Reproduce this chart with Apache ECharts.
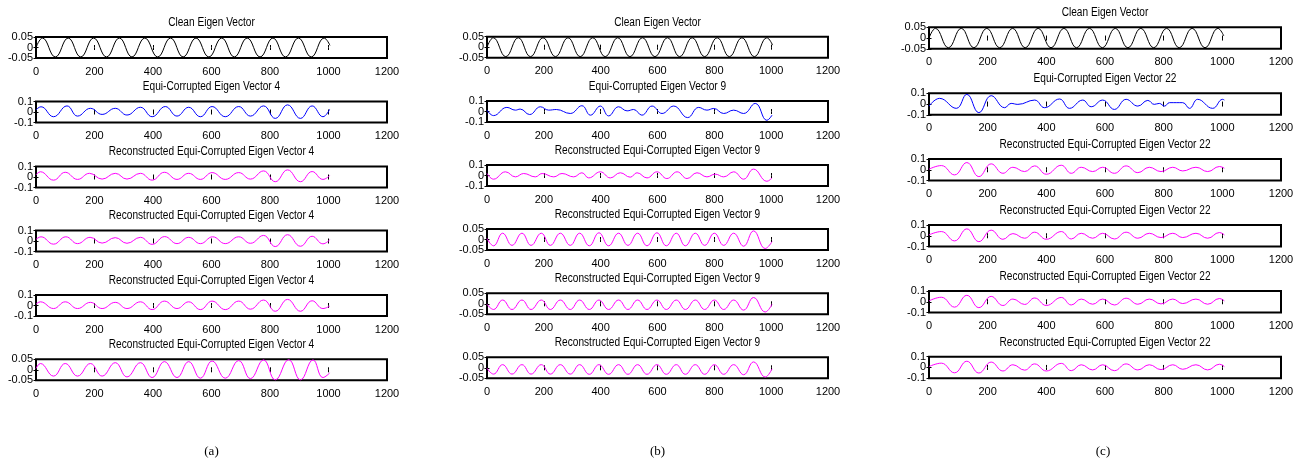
<!DOCTYPE html>
<html>
<head>
<meta charset="utf-8">
<script src="https://cdn.jsdelivr.net/npm/echarts/dist/echarts.min.js"></script>
<style>
  html, body { margin: 0; padding: 0; background: #ffffff; }
  #chart { width: 1298px; height: 464px; }
</style>
</head>
<body>
<div id="chart"></div>
<script>
// ---- data: extrema of each eigen vector trace, as [sample index, value] ----
const cleanVector = [[0,0.0],[22,0.045],[66,-0.045],[110,0.045],[153,-0.045],[197,0.045],[241,-0.045],[285,0.045],[328,-0.045],[372,0.045],[416,-0.045],[460,0.045],[503,-0.045],[547,0.045],[591,-0.045],[635,0.045],[678,-0.045],[722,0.045],[766,-0.045],[810,0.045],[853,-0.045],[897,0.045],[941,-0.045],[985,0.045],[1005,0.01]];

// (a) vector 4
const corrupted4 = [[0,0.02],[17,0.05],[60,-0.045],[106,0.058],[142,-0.039],[186,0.035],[226,-0.023],[271,0.035],[311,-0.029],[357,0.045],[397,-0.045],[442,0.052],[482,-0.039],[522,0.045],[562,-0.045],[602,0.052],[647,-0.045],[693,0.052],[733,-0.039],[778,0.058],[818,-0.061],[860,0.068],[904,-0.061],[944,0.058],[981,-0.045],[1004,0.026]];
const recon4a = [[0,0.02],[15,0.05],[60,-0.03],[100,0.045],[142,-0.023],[183,0.035],[226,-0.02],[271,0.035],[311,-0.02],[357,0.035],[397,-0.03],[439,0.045],[482,-0.023],[522,0.035],[562,-0.023],[602,0.042],[647,-0.023],[693,0.042],[733,-0.02],[778,0.058],[818,-0.045],[860,0.068],[904,-0.045],[944,0.052],[981,-0.023],[1004,0.013]];
const recon4b = [[0,0.015],[17,0.04],[60,-0.03],[102,0.04],[142,-0.025],[185,0.035],[226,-0.02],[271,0.032],[311,-0.022],[357,0.035],[397,-0.032],[440,0.042],[482,-0.025],[522,0.035],[562,-0.025],[604,0.04],[647,-0.025],[693,0.04],[733,-0.022],[778,0.053],[818,-0.053],[860,0.06],[904,-0.05],[944,0.045],[981,-0.027],[1004,0.011]];
const recon4c = [[0,0.012],[15,0.035],[60,-0.029],[100,0.035],[142,-0.029],[186,0.03],[226,-0.029],[271,0.03],[311,-0.029],[357,0.035],[397,-0.039],[439,0.042],[482,-0.029],[522,0.035],[562,-0.039],[602,0.042],[647,-0.039],[693,0.042],[733,-0.035],[778,0.052],[818,-0.055],[860,0.058],[904,-0.055],[944,0.045],[981,-0.029],[1004,-0.006]];
const recon4d = [[0,0.006],[15,0.03],[60,-0.03],[100,0.03],[142,-0.03],[186,0.03],[226,-0.03],[271,0.034],[311,-0.034],[357,0.034],[397,-0.037],[439,0.039],[482,-0.037],[522,0.039],[562,-0.04],[602,0.042],[647,-0.04],[693,0.044],[733,-0.042],[778,0.047],[818,-0.048],[864,0.048],[904,-0.048],[947,0.047],[981,-0.037],[1004,-0.015]];

// (b) vector 9
const corrupted9 = [[0,0.013],[23,-0.039],[70,0.039],[100,0.013],[117,0.023],[150,-0.029],[188,0.045],[217,0.013],[244,0.019],[293,-0.019],[334,0.055],[364,-0.035],[399,0.052],[428,-0.042],[463,0.045],[493,0.006],[516,0.019],[545,-0.035],[581,0.052],[616,-0.019],[657,0.052],[706,-0.058],[745,0.039],[774,0.013],[798,0.029],[833,-0.019],[868,0.013],[903,-0.019],[944,0.077],[985,-0.084],[1003,-0.035]];
const recon9a = [[0,0.019],[23,-0.035],[65,0.035],[100,-0.013],[129,0.019],[170,-0.013],[194,0.019],[235,-0.013],[264,0.019],[305,-0.013],[334,0.026],[358,-0.023],[399,0.035],[434,-0.023],[469,0.026],[504,-0.016],[528,0.026],[563,-0.023],[598,0.035],[633,-0.029],[669,0.035],[704,-0.029],[739,0.026],[774,-0.013],[803,0.013],[833,-0.013],[868,0.035],[903,-0.035],[938,0.061],[985,-0.055],[1003,-0.023]];
const recon9b = [[0,0.005],[23,-0.03],[55,0.03],[88,-0.028],[123,0.03],[155,-0.028],[191,0.03],[223,-0.028],[258,0.03],[293,-0.028],[326,0.03],[360,-0.03],[394,0.032],[428,-0.03],[463,0.03],[496,-0.028],[530,0.03],[563,-0.03],[598,0.032],[631,-0.03],[666,0.03],[698,-0.03],[733,0.03],[766,-0.028],[800,0.03],[833,-0.028],[868,0.03],[903,-0.032],[938,0.041],[979,-0.043],[1003,-0.01]];
const recon9c = [[0,-0.002],[23,-0.027],[55,0.018],[88,-0.027],[123,0.018],[155,-0.027],[191,0.018],[223,-0.027],[258,0.018],[293,-0.027],[326,0.018],[360,-0.027],[394,0.018],[428,-0.027],[463,0.018],[496,-0.027],[530,0.018],[563,-0.027],[598,0.018],[631,-0.027],[666,0.018],[698,-0.027],[733,0.018],[766,-0.027],[800,0.018],[833,-0.027],[868,0.018],[903,-0.03],[938,0.03],[979,-0.039],[1003,-0.002]];
const recon9d = [[0,-0.002],[23,-0.03],[55,0.015],[88,-0.03],[123,0.015],[155,-0.03],[191,0.015],[223,-0.03],[258,0.015],[293,-0.03],[326,0.015],[360,-0.031],[394,0.015],[428,-0.031],[463,0.015],[496,-0.031],[530,0.015],[563,-0.031],[598,0.015],[631,-0.031],[666,0.015],[698,-0.031],[733,0.015],[766,-0.031],[800,0.015],[833,-0.031],[868,0.015],[903,-0.033],[938,0.028],[979,-0.044],[1003,-0.005]];

// (c) vector 22
const corrupted22 = [[0,-0.02],[36,0.053],[93,-0.04],[129,0.09],[170,-0.08],[212,0.078],[258,-0.034],[280,0.006],[303,-0.003],[360,0.037],[394,-0.034],[445,0.047],[479,-0.04],[524,0.037],[553,-0.025],[592,0.037],[632,-0.05],[672,0.044],[712,-0.019],[746,0.034],[768,-0.003],[785,0.006],[803,-0.019],[820,0.013],[865,0.013],[888,-0.04],[916,0.044],[967,-0.04],[1001,0.044],[1007,0.037]];
const recon22a = [[0,0.005],[42,0.039],[87,-0.048],[129,0.067],[170,-0.064],[212,0.055],[252,-0.033],[286,0.023],[326,-0.017],[360,0.036],[400,-0.042],[451,0.042],[485,-0.033],[519,0.023],[558,-0.017],[592,0.023],[632,-0.033],[672,0.036],[712,-0.027],[751,0.023],[791,-0.017],[831,0.023],[865,-0.011],[910,0.023],[950,-0.017],[990,0.03],[1007,0.014]];
const recon22b = [[0,0.008],[42,0.039],[87,-0.048],[129,0.064],[170,-0.055],[212,0.052],[252,-0.033],[286,0.02],[326,-0.023],[360,0.033],[400,-0.033],[451,0.039],[485,-0.03],[519,0.023],[558,-0.023],[592,0.023],[632,-0.03],[672,0.033],[712,-0.023],[751,0.023],[791,-0.017],[831,0.023],[865,-0.017],[910,0.023],[950,-0.023],[990,0.03],[1007,0.008]];
const recon22c = [[0,0.008],[42,0.042],[87,-0.05],[129,0.06],[170,-0.055],[212,0.05],[252,-0.035],[286,0.025],[326,-0.025],[360,0.035],[400,-0.035],[451,0.04],[485,-0.03],[519,0.025],[558,-0.023],[592,0.025],[632,-0.03],[672,0.033],[712,-0.023],[751,0.025],[791,-0.02],[831,0.025],[865,-0.017],[910,0.025],[950,-0.023],[990,0.03],[1007,0.008]];
const recon22d = [[0,0.008],[42,0.04],[87,-0.05],[129,0.058],[170,-0.052],[212,0.05],[252,-0.033],[286,0.025],[326,-0.025],[360,0.033],[400,-0.033],[451,0.038],[485,-0.03],[519,0.025],[558,-0.023],[592,0.025],[632,-0.03],[672,0.033],[712,-0.023],[751,0.025],[791,-0.02],[831,0.025],[865,-0.017],[910,0.025],[950,-0.023],[990,0.03],[1007,0.008]];

// panel titles, traces and y-limits per column
const titlesA = ['Clean Eigen Vector', 'Equi-Corrupted Eigen Vector 4', 'Reconstructed Equi-Corrupted Eigen Vector 4', 'Reconstructed Equi-Corrupted Eigen Vector 4', 'Reconstructed Equi-Corrupted Eigen Vector 4', 'Reconstructed Equi-Corrupted Eigen Vector 4'];
const titlesB = ['Clean Eigen Vector', 'Equi-Corrupted Eigen Vector 9', 'Reconstructed Equi-Corrupted Eigen Vector 9', 'Reconstructed Equi-Corrupted Eigen Vector 9', 'Reconstructed Equi-Corrupted Eigen Vector 9', 'Reconstructed Equi-Corrupted Eigen Vector 9'];
const titlesC = ['Clean Eigen Vector', 'Equi-Corrupted Eigen Vector 22', 'Reconstructed Equi-Corrupted Eigen Vector 22', 'Reconstructed Equi-Corrupted Eigen Vector 22', 'Reconstructed Equi-Corrupted Eigen Vector 22', 'Reconstructed Equi-Corrupted Eigen Vector 22'];
const tracesA = [cleanVector, corrupted4, recon4a, recon4b, recon4c, recon4d];
const tracesB = [cleanVector, corrupted9, recon9a, recon9b, recon9c, recon9d];
const tracesC = [cleanVector, corrupted22, recon22a, recon22b, recon22c, recon22d];
const limitsA = [0.05, 0.1, 0.1, 0.1, 0.1, 0.05];
const limitsB = [0.05, 0.1, 0.1, 0.05, 0.05, 0.05];
const limitsC = [0.05, 0.1, 0.1, 0.1, 0.1, 0.1];
const captions = ['(a)', '(b)', '(c)'];
const xMax = 1200;
const xStep = 200;

// ---- layout ----
const layout = [
  { left: 36,  width: 351, height: 21,   tops: [37, 101.5, 166.5, 230.5, 295, 359.3] },
  { left: 487, width: 341, height: 21,   tops: [36.7, 101, 165, 229, 293.3, 357.3] },
  { left: 929, width: 352, height: 21.5, tops: [27.3, 93.3, 159, 225, 291, 356.7] }
];
const rowColors = ['#000000', '#0000ff', '#ff00ff', '#ff00ff', '#ff00ff', '#ff00ff'];
const SANS = '"Liberation Sans", Arial, sans-serif';
const SERIF = '"Liberation Serif", "Times New Roman", serif';
const columns = [
  { titles: titlesA, traces: tracesA, limits: limitsA },
  { titles: titlesB, traces: tracesB, limits: limitsB },
  { titles: titlesC, traces: tracesC, limits: limitsC }
];

const grid = [], xAxis = [], yAxis = [], series = [], graphic = [];
const tick = { show: true, inside: true, length: 2.5, lineStyle: { color: '#000', width: 1 } };
const fmt = v => String(+v.toFixed(4));
const label = { color: '#000', fontFamily: SANS, fontSize: 11, showMinLabel: true, showMaxLabel: true, formatter: fmt };
// the short panels crowd their y labels, so the end labels and the zero
// label are carried by two overlaid left axes
const yEndLabel = Object.assign({}, label, { margin: 3, formatter: v => (Math.abs(v) < 1e-9 ? '' : fmt(v)) });
const yZeroLabel = Object.assign({}, label, { margin: 3, showMinLabel: false, showMaxLabel: false, formatter: v => (Math.abs(v) < 1e-9 ? '0' : '') });
const AX_PER_GRID = 3;

columns.forEach((col, c) => {
  const L = layout[c];
  col.traces.forEach((trace, r) => {
    const g = grid.length;
    const lim = col.limits[r];
    grid.push({
      left: L.left, top: L.tops[r], width: L.width, height: L.height,
      show: true, borderColor: '#000', borderWidth: 2, backgroundColor: 'transparent'
    });
    const xBase = { gridIndex: g, type: 'value', min: 0, max: xMax, interval: xStep, axisLine: { show: false }, splitLine: { show: false } };
    xAxis.push(Object.assign({ position: 'bottom', axisTick: tick, axisLabel: Object.assign({ margin: 8 }, label) }, xBase));
    xAxis.push(Object.assign({ position: 'top', axisTick: tick, axisLabel: { show: false } }, xBase));
    const yBase = { gridIndex: g, type: 'value', min: -lim, max: lim, interval: lim, axisLine: { show: false }, splitLine: { show: false } };
    yAxis.push(Object.assign({ position: 'left', axisTick: tick, axisLabel: yEndLabel }, yBase));
    yAxis.push(Object.assign({ position: 'right', axisTick: tick, axisLabel: { show: false } }, yBase));
    yAxis.push(Object.assign({ position: 'left', axisTick: { show: false }, axisLabel: yZeroLabel }, yBase));
    series.push({
      type: 'line', xAxisIndex: 2 * g, yAxisIndex: AX_PER_GRID * g, data: trace,
      showSymbol: false, smooth: 0.45, silent: true,
      lineStyle: { color: rowColors[r], width: 1 }
    });
    // panel title, set in a condensed face by squeezing the sans horizontally
    graphic.push({
      type: 'text', x: L.left + L.width / 2, y: L.tops[r] - 14.5, scaleX: 0.81,
      style: { text: col.titles[r], fill: '#000', fontFamily: SANS, fontSize: 12.5, align: 'center', verticalAlign: 'middle' }
    });
  });
  graphic.push({
    type: 'text', x: L.left + L.width / 2 + (c === 2 ? -2 : 0), y: 452,
    style: { text: captions[c], fill: '#000', fontFamily: SERIF, fontSize: 13, align: 'center', verticalAlign: 'middle' }
  });
});

const chart = echarts.init(document.getElementById('chart'), null, { renderer: 'canvas' });
chart.setOption({
  animation: false,
  backgroundColor: '#ffffff',
  grid, xAxis, yAxis, series, graphic
});
</script>
</body>
</html>
